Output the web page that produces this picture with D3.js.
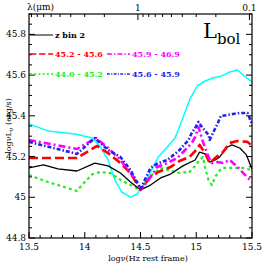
<!DOCTYPE html>
<html>
<head>
<meta charset="utf-8">
<script src="https://cdn.jsdelivr.net/npm/d3@7"></script>
<style>
  body { margin: 0; background: #fff; }
  svg text { font-family: "DejaVu Serif", "Liberation Serif", serif; }
</style>
</head>
<body>
<svg id="chart" width="266" height="266"></svg>
<script>
// log nu (Hz) , log nu L_nu (erg/s)
const black = [[13.50,45.144],[13.63,45.159],[13.76,45.139],[13.93,45.129],[14.09,45.168],[14.21,45.154],[14.32,45.119],[14.41,45.075],[14.50,45.036],[14.59,45.060],[14.68,45.095],[14.77,45.114],[14.88,45.154],[14.99,45.183],[15.03,45.222],[15.08,45.213],[15.12,45.173],[15.17,45.183],[15.21,45.198],[15.28,45.247],[15.32,45.257],[15.39,45.242],[15.45,45.208],[15.50,45.139]];
const red = [[13.50,45.193],[13.93,45.193],[14.11,45.252],[14.21,45.217],[14.32,45.168],[14.41,45.119],[14.50,45.036],[14.59,45.100],[14.66,45.124],[14.77,45.149],[14.85,45.178],[14.94,45.198],[15.00,45.232],[15.03,45.257],[15.08,45.217],[15.12,45.168],[15.17,45.193],[15.24,45.222],[15.30,45.267],[15.37,45.276],[15.46,45.272],[15.50,45.252]];
const magenta = [[13.50,45.281],[13.93,45.237],[14.10,45.291],[14.21,45.242],[14.32,45.183],[14.41,45.119],[14.47,45.075],[14.50,45.041],[14.56,45.075],[14.65,45.149],[14.74,45.168],[14.83,45.193],[14.90,45.232],[14.96,45.267],[14.99,45.296],[15.02,45.345],[15.06,45.272],[15.11,45.198],[15.14,45.168],[15.19,45.173],[15.24,45.168],[15.30,45.183],[15.37,45.149],[15.43,45.114],[15.50,45.075]];
const blue = [[13.50,45.272],[13.93,45.213],[14.09,45.291],[14.21,45.232],[14.32,45.198],[14.41,45.134],[14.50,45.041],[14.59,45.144],[14.66,45.168],[14.74,45.183],[14.85,45.232],[14.93,45.281],[14.96,45.316],[14.99,45.340],[15.02,45.370],[15.05,45.345],[15.08,45.326],[15.11,45.306],[15.12,45.281],[15.15,45.316],[15.19,45.360],[15.22,45.399],[15.28,45.404],[15.33,45.409],[15.39,45.414],[15.46,45.414],[15.50,45.360]];
const green = [[13.50,45.109],[13.67,45.075],[13.93,45.031],[14.00,45.075],[14.07,45.114],[14.14,45.124],[14.23,45.119],[14.32,45.085],[14.41,45.060],[14.50,45.036],[14.59,45.105],[14.68,45.144],[14.75,45.134],[14.83,45.119],[14.88,45.124],[14.93,45.119],[14.99,45.154],[15.03,45.183],[15.06,45.198],[15.08,45.144],[15.11,45.085],[15.14,45.060],[15.17,45.100],[15.20,45.124],[15.23,45.144],[15.32,45.144],[15.41,45.144],[15.50,45.134]];
const cyan = [[13.50,45.360],[13.67,45.326],[13.91,45.311],[14.07,45.291],[14.14,45.247],[14.21,45.183],[14.27,45.085],[14.33,45.026],[14.41,45.001],[14.47,45.016],[14.52,45.055],[14.59,45.124],[14.66,45.198],[14.74,45.247],[14.81,45.291],[14.88,45.389],[14.94,45.478],[15.01,45.547],[15.08,45.571],[15.15,45.586],[15.23,45.596],[15.30,45.615],[15.37,45.625],[15.43,45.596],[15.50,45.566]];

const xTicks = [13.5, 14, 14.5, 15, 15.5];
const yTicks = [44.8, 45, 45.2, 45.4, 45.6, 45.8];
const lambdaTicks = [1, 0.1];

const series = [
  { data: black, color: "#000", width: 1.3, dash: null, label: "z bin 2" },
  { data: red, color: "#ff0000", width: 2.6, dash: "9,4", label: "45.2 - 45.6" },
  { data: green, color: "#22ee22", width: 2.2, dash: "3,3", label: "44.0 - 45.2" },
  { data: magenta, color: "#ff00ff", width: 2.6, dash: "7,3,2,3", label: "45.9 - 46.9" },
  { data: blue, color: "#2222ee", width: 2.6, dash: "4,2,1.5,2", label: "45.6 - 45.9" },
  { data: cyan, color: "#00ffff", width: 1.5, dash: null, label: null }
];

const svg = d3.select("#chart");
const pLeft = 29, pRight = 252, pTop = 14, pBottom = 238;

const x = d3.scaleLinear().domain([13.5, 15.5]).range([pLeft, pRight]);
const y = d3.scaleLinear().domain([44.8, 45.9]).range([pBottom, pTop]);
const logC = Math.log10(2.998e14); // c in micron Hz

const line = d3.line()
  .x(function (d) { return x(d[0]); })
  .y(function (d) { return y(d[1]); });

const plot = svg.append("g");
plot.append("clipPath").attr("id", "clip")
  .append("rect").attr("x", pLeft).attr("y", pTop)
  .attr("width", pRight - pLeft).attr("height", pBottom - pTop);

// curves, cyan first so it sits behind the rest
[series[5], series[2], series[0], series[1], series[3], series[4]].forEach(function (s) {
  plot.append("path")
    .attr("d", line(s.data))
    .attr("fill", "none")
    .attr("stroke", s.color)
    .attr("stroke-width", s.width)
    .attr("stroke-dasharray", s.dash)
    .attr("stroke-linejoin", "round")
    .attr("clip-path", "url(#clip)");
});

// ticks (inward) on all four sides
const tk = svg.append("g").attr("stroke", "#000").attr("stroke-width", 1);
d3.range(13.5, 15.501, 0.1).forEach(function (v) {
  const major = Math.abs(v * 2 - Math.round(v * 2)) < 1e-6;
  const len = major ? 6 : 3;
  tk.append("line").attr("x1", x(v)).attr("x2", x(v)).attr("y1", pBottom).attr("y2", pBottom - len);
});
d3.range(44.8, 45.9001, 0.05).forEach(function (v) {
  const major = Math.abs(v * 5 - Math.round(v * 5)) < 1e-6;
  const len = major ? 6 : 3;
  tk.append("line").attr("x1", pLeft).attr("x2", pLeft + len).attr("y1", y(v)).attr("y2", y(v));
  tk.append("line").attr("x1", pRight).attr("x2", pRight - len).attr("y1", y(v)).attr("y2", y(v));
});
// top axis in wavelength (micron)
[0.1, 1, 10].forEach(function (dec) {
  d3.range(1, 10).forEach(function (m) {
    const lam = dec * m;
    const v = logC - Math.log10(lam);
    if (v < 13.5 || v > 15.5) return;
    const len = m == 1 ? 6 : 3;
    tk.append("line").attr("x1", x(v)).attr("x2", x(v)).attr("y1", pTop).attr("y2", pTop + len);
  });
});

svg.append("rect")
  .attr("x", pLeft).attr("y", pTop)
  .attr("width", pRight - pLeft).attr("height", pBottom - pTop)
  .attr("fill", "none").attr("stroke", "#000").attr("stroke-width", 1.2);

// tick labels
const lab = svg.append("g").attr("font-size", 9).attr("fill", "#000");
xTicks.forEach(function (v) {
  lab.append("text").attr("x", x(v)).attr("y", 250).attr("text-anchor", "middle").text(v);
});
yTicks.forEach(function (v) {
  lab.append("text").attr("x", 26).attr("y", y(v) + 3).attr("text-anchor", "end").text(v);
});
lambdaTicks.forEach(function (l) {
  lab.append("text").attr("x", x(logC - Math.log10(l))).attr("y", 11)
    .attr("text-anchor", "middle").text(l);
});
lab.append("text").attr("x", 27).attr("y", 10).attr("font-size", 9)
  .text("\u03bb(\u03bcm)");

// axis titles
const xt = svg.append("text").attr("x", 148).attr("y", 261)
  .attr("text-anchor", "middle").attr("font-size", 8);
xt.append("tspan").text("log\u03bd(Hz rest frame)");

const yt = svg.append("text")
  .attr("transform", "translate(11," + ((pTop + pBottom) / 2) + ") rotate(-90)")
  .attr("text-anchor", "middle").attr("font-size", 8);
yt.append("tspan").text("log\u03bdL");
yt.append("tspan").attr("dy", 2).attr("font-size", 6).text("\u03bd");
yt.append("tspan").attr("dy", -2).text(" (erg/s)");

// L_bol
const lb = svg.append("text").attr("x", 203).attr("y", 38).attr("font-size", 21);
lb.append("tspan").text("L");
lb.append("tspan").attr("dy", 6).attr("font-size", 15).text("bol");

// legend
const legendPos = [
  { s: series[0], lx: 30, ly: 35 },
  { s: series[1], lx: 30, ly: 54 },
  { s: series[3], lx: 107, ly: 54 },
  { s: series[2], lx: 30, ly: 74 },
  { s: series[4], lx: 107, ly: 74 }
];
legendPos.forEach(function (p) {
  svg.append("line")
    .attr("x1", p.lx).attr("x2", p.lx + 23)
    .attr("y1", p.ly).attr("y2", p.ly)
    .attr("stroke", p.s.color)
    .attr("stroke-width", p.s.color == "#000" ? 1 : 1.3)
    .attr("stroke-dasharray", p.s.dash ? p.s.dash.split(",").map(function (d) { return d * 0.7; }).join(",") : null);
  svg.append("text")
    .attr("x", p.lx + 25).attr("y", p.ly + 3)
    .attr("font-size", 8).attr("font-weight", "bold")
    .attr("fill", p.s.color)
    .text(p.s.label);
});
</script>
</body>
</html>
